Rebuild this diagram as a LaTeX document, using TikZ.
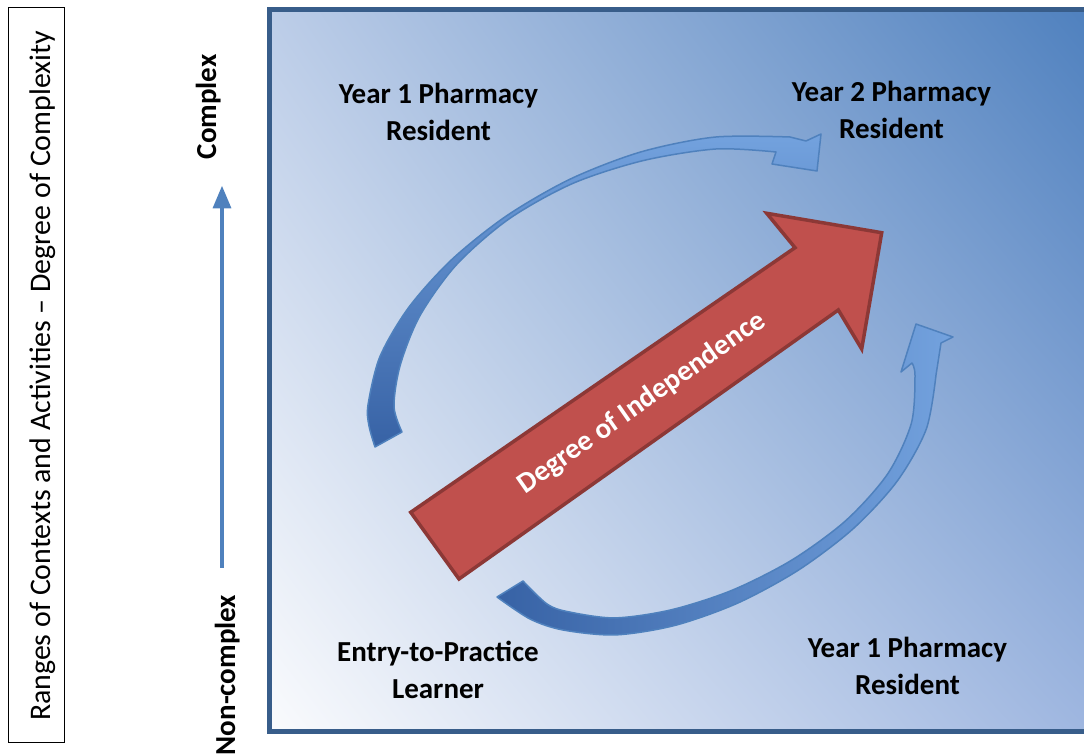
\documentclass[tikz,border=0pt]{standalone}
\usepackage{fontspec}
\setmainfont{Carlito}
\usepackage{tikz}
\usetikzlibrary{arrows,shapes,positioning,shadings}
\usepackage{xcolor}
\definecolor{frameblue}{RGB}{56,93,138}
\definecolor{axisblue}{RGB}{79,129,189}
\definecolor{bgtl}{RGB}{188,205,232}
\definecolor{bgtr}{RGB}{78,128,190}
\definecolor{bgbl}{RGB}{250,251,253}
\definecolor{bgbr}{RGB}{158,182,224}
\definecolor{ribbondark}{RGB}{55,98,165}
\definecolor{ribbonlight}{RGB}{115,162,222}
\definecolor{ribbonedge}{RGB}{79,129,189}
\definecolor{indred}{RGB}{192,80,77}
\definecolor{indredline}{RGB}{140,56,54}
\tikzstyle{stage} = [font=\bfseries\fontsize{16.5}{21.5}\selectfont, align=center, text centered, inner sep=0pt]
\tikzstyle{axislabel} = [font=\bfseries\fontsize{16.5}{20}\selectfont, rotate=90, anchor=base, inner sep=0pt]
\tikzstyle{ribbon} = [draw=ribbonedge, line width=0.3mm, line join=round]
\tikzstyle{arrow} = [line width=0.7mm, ->, >=triangle 45, color=axisblue]

\begin{document}
\begin{tikzpicture}[x=0.2mm, y=-0.2mm]
\useasboundingbox (0,0) rectangle (1084,755);
\clip (0,0) rectangle (1084,755);

% Left caption box
\node[draw=black, line width=0.3mm, minimum width=11.2mm, minimum height=147mm, inner sep=0pt] (capbox) at (36.3,375) {};
\node[rotate=90, anchor=base, inner sep=0pt, font=\fontsize{17}{20}\selectfont] (caption) at (50,376) {Ranges of Contexts and Activities -- Degree of Complexity};

% Complexity axis
\coordinate (axisbot) at (222,568);
\coordinate (axistop) at (222,186);
\draw[arrow] (axisbot) -- (axistop);
\node[axislabel] (complex) at (216,107) {Complex};
\node[axislabel] (noncomplex) at (235,675) {Non-complex};

% Background panel
\shade[upper left=bgtl, upper right=bgtr, lower left=bgbl, lower right=bgbr] (269,9.5) rectangle (1095,731.5);
\draw[frameblue, line width=1mm] (269,9.5) rectangle (1095,731.5);

% Upper curved arrow
\shade[ribbon, top color=ribbonlight, bottom color=ribbondark]
  plot[smooth, tension=0.5] coordinates {(375,447) (369,426) (368,405) (379.9,356.7) (408.8,307.3) (451.8,259.5) (506.6,215.8) (570.4,179) (640.6,152) (714.7,137.1) (790,137)}
  -- (806,141) -- (821,134) -- (817,171) -- (772,164) -- (776,152)
  -- plot[smooth, tension=0.5] coordinates {(776,152) (716,149) (643.2,160.6) (572.6,183.5) (508.8,219.1) (456.6,264.6) (420,315.6) (400.2,365.3) (394,406.5) (402,432)}
  -- cycle;

% Lower curved arrow
\shade[ribbon, left color=ribbondark, right color=ribbonlight]
  plot[smooth, tension=0.5] coordinates {(523,581) (547,604) (568,611.7) (614.8,617.9) (671.3,609.8) (732.2,590.2) (792.1,559.9) (846,520.4) (887.7,473.8) (911.3,423.4) (915,375.6) (912,363)}
  -- (901,372) -- (916,324) -- (953,337) -- (941,343)
  -- plot[smooth, tension=0.5] coordinates {(936,375) (926.3,429) (897.3,481) (853.3,528.6) (798.6,570) (737.9,603) (675.4,625.3) (615.6,634.9) (563,630) (530,619) (497,597)}
  -- cycle;

% Independence arrow
\draw[fill=indred, draw=indredline, line width=0.7mm, line join=miter]
  (410.7,512.3) -- (795,247.7) -- (766.7,213.3) -- (881.7,232.7) -- (861.7,349) -- (838.3,310) -- (459,579) -- cycle;
\node[rotate=35, text=white, font=\bfseries\fontsize{16.5}{20}\selectfont] (indep) at (642,403) {Degree of Independence};

% Stage labels
\node[stage] (y1top) at (438.5,112) {Year 1 Pharmacy\\Resident};
\node[stage] (y2) at (891.5,110) {Year 2 Pharmacy\\Resident};
\node[stage] (entry) at (438,670) {Entry-to-Practice\\Learner};
\node[stage] (y1bot) at (907.5,666) {Year 1 Pharmacy\\Resident};
\end{tikzpicture}
\end{document}
